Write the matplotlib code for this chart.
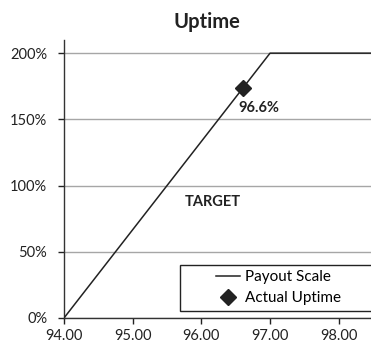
import matplotlib.pyplot as plt
from matplotlib.patches import Rectangle
from matplotlib.ticker import FuncFormatter

# payout scale: linear from 94.00 to 97.00, capped at 200%
scale_uptime = [94.0, 97.0, 98.6]
scale_payout = [0, 200, 200]

actual_uptime = 96.6
actual_payout = (actual_uptime - 94.0) / 3.0 * 200

x_ticks = [94.0, 95.0, 96.0, 97.0, 98.0]
y_ticks = [0, 50, 100, 150, 200]

plt.rcParams['font.family'] = ['Lato', 'DejaVu Sans']

fig = plt.figure(figsize=(3.71, 3.45), dpi=100)
ax = fig.add_axes([0.1725, 0.0783, 0.8275, 0.806])

ax.plot(scale_uptime, scale_payout, color='#222222', lw=1.1, label='Payout Scale', zorder=3)
ax.plot([actual_uptime], [actual_payout], linestyle='none', marker='D', markersize=8,
        color='#222222', label='Actual Uptime', zorder=4)

ax.annotate('%.1f%%' % actual_uptime, (actual_uptime, actual_payout),
            xytext=(-3, -14), textcoords='offset points', ha='left', va='center',
            fontsize=10.5, fontweight='bold', color='#222222')
ax.text(96.17, 87.5, 'TARGET', ha='center', va='center', fontsize=10.5,
        fontweight='bold', color='#222222')

ax.set_xlim(94.0, 98.47)
ax.set_ylim(0, 210)
ax.set_xticks(x_ticks)
ax.set_yticks(y_ticks)
ax.xaxis.set_major_formatter(FuncFormatter(lambda v, p: '%.2f' % v))
ax.yaxis.set_major_formatter(FuncFormatter(lambda v, p: '%d%%' % v))
ax.tick_params(axis='both', labelsize=10.5, colors='#222222', length=4, width=1)
ax.tick_params(axis='y', pad=8)
ax.tick_params(axis='x', pad=4)

ax.grid(axis='y', color='#a6a6a6', lw=1)
ax.set_axisbelow(True)
for s in ['top', 'right']:
    ax.spines[s].set_visible(False)
for s in ['left', 'bottom']:
    ax.spines[s].set_color('#333333')
    ax.spines[s].set_linewidth(1)

# legend box runs off the right edge
box = Rectangle((0.378, 0.024), 0.7, 0.166, transform=ax.transAxes, fill=True,
                facecolor='white', edgecolor='#222222', lw=1, clip_on=False, zorder=5)
ax.add_patch(box)
leg = ax.legend(loc='upper left', bbox_to_anchor=(0.474, 0.194), frameon=False,
                fontsize=11, handlelength=1.6, handletextpad=0.35, labelspacing=0.45,
                borderaxespad=0)
leg.set_zorder(6)

fig.text(0.558, 1 - 22 / 345, 'Uptime', ha='center', va='center', fontsize=14.5,
         fontweight='bold', color='#222222')

plt.savefig('out.png', dpi=100)
